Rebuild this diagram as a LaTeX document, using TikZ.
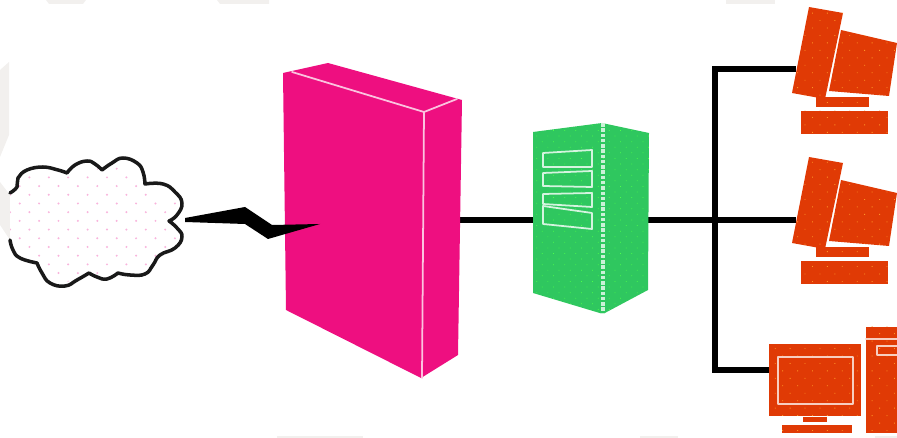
\documentclass[tikz,border=0pt]{standalone}
\usetikzlibrary{patterns.meta}
\definecolor{wallpink}{HTML}{EE0F80}
\definecolor{servergreen}{HTML}{2FC75F}
\definecolor{hostred}{HTML}{E03A05}
\definecolor{ghostgray}{HTML}{F2F0EE}
\tikzset{
	wire/.style={line width=3pt,black,line cap=butt},
	wallface/.style={fill=wallpink},
	walledge/.style={draw=white!75!wallpink,line width=1pt},
	serverface/.style={fill=servergreen,postaction={pattern={Dots[radius=.3pt,distance=4.5pt,angle=45]},pattern color=green!70!white}},
	slot/.style={draw=white!80!servergreen,line width=1pt},
	hostface/.style={fill=hostred,postaction={pattern={Dots[radius=.35pt,distance=6pt,angle=45]},pattern color=orange!85!white}},
	hostedge/.style={draw=white!75!hostred,line width=1.1pt},
}
\begin{document}
	\begin{tikzpicture}[line cap=round,line join=round,>=stealth,x=0.02cm,y=-0.02cm]
		\useasboundingbox (0,0) rectangle (897,438);
		
		% faint shapes at the edges
		\fill[ghostgray] (0,70)--(9,62)--(9,135)--(0,157)--cycle;
		\fill[ghostgray] (0,182)--(10,195)--(10,240)--(0,225)--cycle;
		\fill[ghostgray] (46,0)--(86,0)--(83,4)--(49,4)--cycle;
		\fill[ghostgray] (217,0)--(269,0)--(269,4)--(220,4)--cycle;
		\fill[ghostgray] (726,0)--(775,0)--(775,4)--(726,4)--cycle;
		\fill[ghostgray] (277,436) rectangle (363,438);
		\fill[ghostgray] (640,436) rectangle (678,438);
		\fill[ghostgray] (875,436) rectangle (897,438);
		
		% connectors
		\coordinate (wallport) at (459,220);
		\coordinate (serverin) at (533,220);
		\coordinate (serverout) at (648,220);
		\coordinate (bustop) at (715,69);
		\coordinate (busmid) at (715,220);
		\coordinate (busend) at (715,370);
		\coordinate (hostone) at (796,69);
		\coordinate (hosttwo) at (796,220);
		\coordinate (hostthree) at (770,370);
		\draw[wire] (wallport) -- (serverin);
		\draw[wire] (serverout) -- (busmid) -- (hosttwo);
		\draw[wire,line join=miter] (hostone) -- (bustop) -- (busend) -- (hostthree);
		
		% cloud
		\fill[white] (10,193) -- (17,187) -- (27,170) -- (67,173) -- (123,158) -- (145,183) -- (182,203) -- (169,221) -- (182,237) -- (145,274) -- (65,286) -- (20,258) -- (10,240) -- cycle;
		\begin{scope}
			\clip (14,190) -- (27,174) -- (67,177) -- (123,162) -- (141,186) -- (178,203) -- (165,221) -- (178,237) -- (145,270) -- (65,282) -- (20,254) -- (10,240) -- (10,190) -- cycle;
			\foreach \row in {0,...,15}
				\foreach \col in {0,...,9}
					\fill[magenta!30!white] ({10+19.4*\col+9.7*mod(\row,2)},{160+8.7*\row}) circle (1.1);
		\end{scope}
		\draw[line width=2pt,black!90] plot[smooth,tension=.7] coordinates {(10,193) (17,187) (18,178) (27,170) (43,167) (58,170) (67,173)}
			-- plot[smooth,tension=.8] coordinates {(67,173) (75,165) (87,161) (95,164) (102,170)}
			-- plot[smooth,tension=.8] coordinates {(102,170) (112,163) (123,158) (137,163) (143,172) (145,184)}
			-- plot[smooth,tension=.8] coordinates {(145,184) (163,184) (175,192) (182,203) (177,215) (169,221)}
			-- plot[smooth,tension=.8] coordinates {(169,221) (177,228) (182,237) (175,248) (160,255) (153,265) (145,274) (130,275) (118,273)}
			-- plot[smooth,tension=.8] coordinates {(118,273) (107,279) (97,277) (89,273)}
			-- plot[smooth,tension=.8] coordinates {(89,273) (77,280) (65,286) (50,283) (42,273) (37,263)}
			-- plot[smooth,tension=.8] coordinates {(37,263) (20,258) (13,250) (10,240)};
		
		% firewall
		\fill[wallface] (283,73)--(328,63)--(462,100)--(458,355)--(421,378)--(286,310)--cycle;
		\draw[walledge] (292,72)--(424,112)--(457,99);
		\draw[walledge] (424,112)--(422,378);
		
		% lightning
		\fill[black] (185,218)--(245,207)--(272,225)--(320,224)--(268,239)--(245,224)--(185,222)--cycle;
		
		% server
		\fill[serverface] (533,132)--(602,123)--(649,133)--(648,290)--(603,314)--(533,293)--cycle;
		\draw[draw=white!75!servergreen,line width=2pt,densely dotted,line cap=butt] (603,123)--(603,314);
		\draw[slot] (543,153)--(592,150)--(592,167)--(543,167)--cycle;
		\draw[slot] (543,173)--(592,171)--(592,187)--(543,186)--cycle;
		\draw[slot] (543,194)--(592,193)--(592,207)--(543,204)--cycle;
		\draw[slot] (543,206)--(592,213)--(592,229)--(543,224)--cycle;
		
		% the two hosts seen from the side
		\foreach \dy in {0,150}{
			\fill[hostface] (841,{30+\dy})--(897,{43+\dy})--(889,{96+\dy})--(829,{91+\dy})--cycle;
			\fill[hostface] (816,{97+\dy})--(869,{97+\dy})--(869,{107+\dy})--(816,{107+\dy})--cycle;
			\fill[hostface] (801,{111+\dy})--(888,{111+\dy})--(888,{134+\dy})--(801,{134+\dy})--cycle;
			\fill[hostface] (809,{7+\dy})--(843,{13+\dy})--(825,{99+\dy})--(792,{93+\dy})--cycle;
		}
		
		% the host seen from the front
		\fill[hostface] (769,344) rectangle (861,416);
		\draw[hostedge] (778,357) rectangle (853,404);
		\fill[hostface] (803,417) rectangle (827,422);
		\fill[hostface] (782,425) rectangle (852,433);
		\fill[hostface] (866,327) rectangle (897,433);
		\draw[hostedge] (866,339)--(897,339);
		\draw[hostedge] (877,346) rectangle (899,355);
	\end{tikzpicture}
\end{document}
